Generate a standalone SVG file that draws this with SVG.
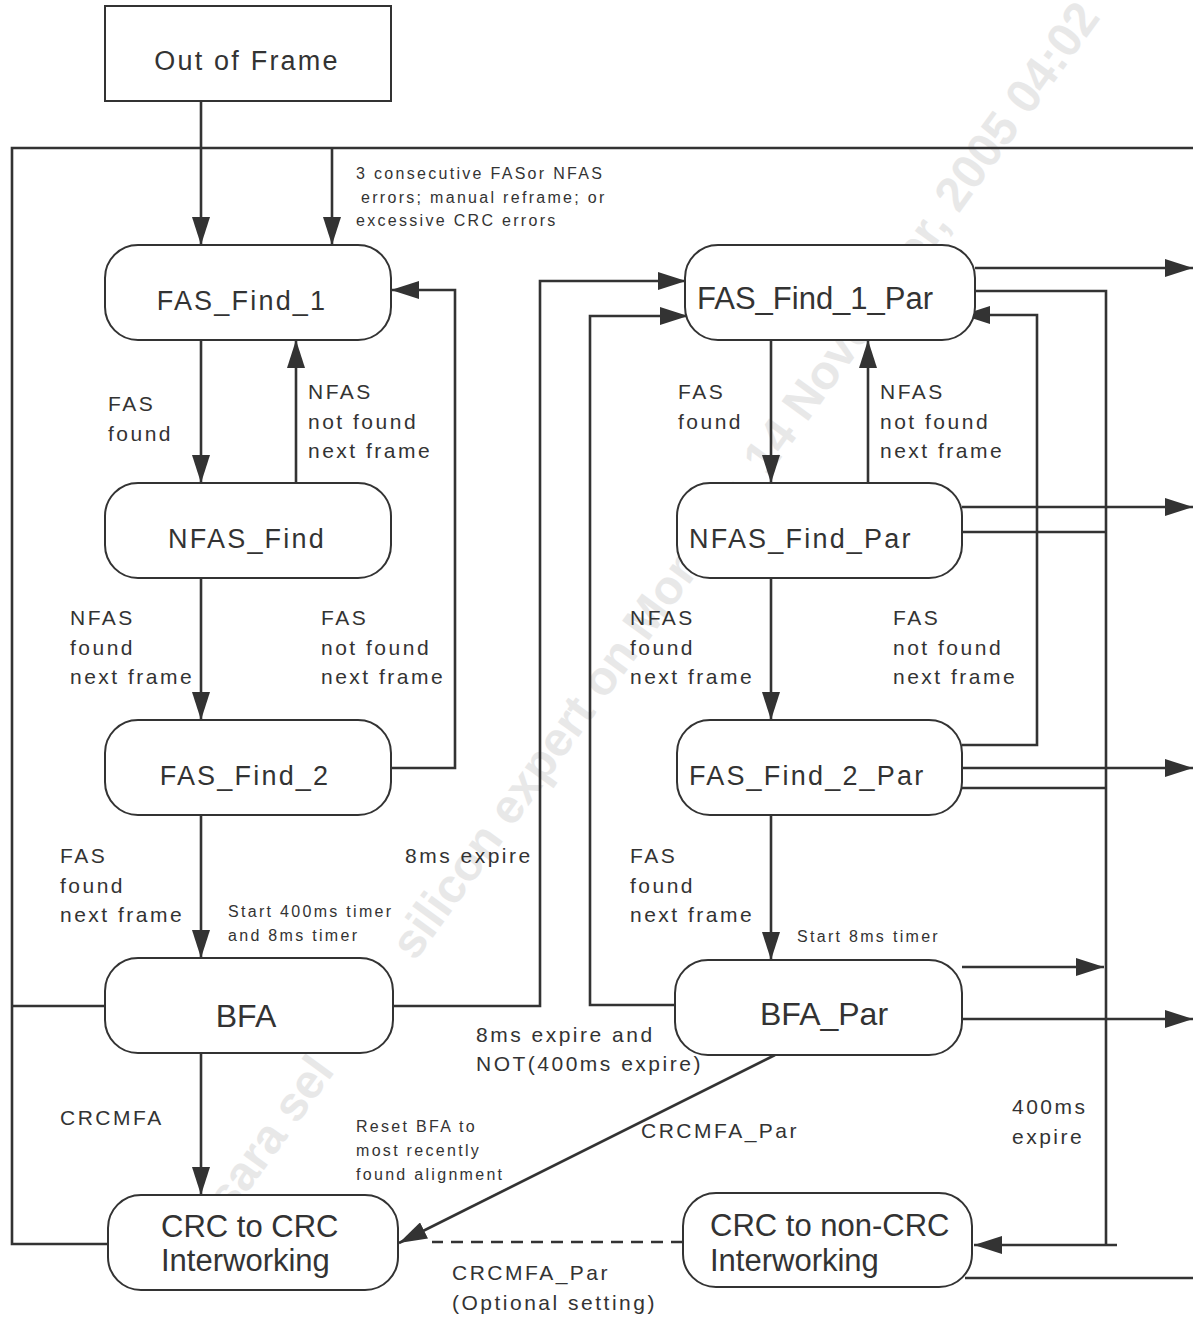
<svg xmlns="http://www.w3.org/2000/svg" width="1193" height="1317" viewBox="0 0 1193 1317">
<style>
.node{fill:#fff;stroke:#333;stroke-width:2}
.t{font-family:"Liberation Sans",Arial,sans-serif;fill:#333}
.nt{font-size:27px;letter-spacing:2.2px}
.nt2{font-size:31px}
.lbl{font-size:21px;letter-spacing:2.5px}
.sm{font-size:16px;letter-spacing:2.3px}
.ln{fill:none;stroke:#333;stroke-width:2.6}
.arr{marker-end:url(#ah)}
.wm{font-family:"Liberation Sans",Arial,sans-serif;font-weight:bold;font-size:48px;fill:#e8e8e8}
</style>
<defs>
<marker id="ah" markerUnits="userSpaceOnUse" markerWidth="28" markerHeight="18" refX="28" refY="9" orient="auto">
<path d="M0,0 L28,9 L0,18 z" fill="#333"/>
</marker>
</defs>
<rect width="1193" height="1317" fill="#fff"/>
<g id="watermark" transform="translate(415,962) rotate(-54)">
<text class="wm" x="0" y="0">silicon expert on Monday, 14 November, 2005 04:02</text>
<text class="wm" x="-135" y="0" text-anchor="end">sara sel</text>
</g>
<g id="connectors">
<path class="ln arr" d="M201,101 V245"/>
<path class="ln" d="M108,1244 H12 V148 H1193"/>
<path class="ln" d="M105,1006 H12"/>
<path class="ln arr" d="M332,148 V245"/>
<path class="ln arr" d="M201,340 V483"/>
<path class="ln arr" d="M296,483 V340"/>
<path class="ln arr" d="M201,578 V720"/>
<path class="ln arr" d="M391,768 H455 V290 H391"/>
<path class="ln arr" d="M201,815 V958"/>
<path class="ln arr" d="M201,1053 V1195"/>
<path class="ln arr" d="M393,1006 H540 V281 H686"/>
<path class="ln arr" d="M675,1005 H590 V316 H688"/>
<path class="ln arr" d="M771,340 V483"/>
<path class="ln arr" d="M868,483 V340"/>
<path class="ln arr" d="M771,578 V720"/>
<path class="ln arr" d="M962,745 H1037 V315 H962"/>
<path class="ln arr" d="M771,815 V960"/>
<path class="ln arr" d="M975,268 H1193"/>
<path class="ln" d="M975,291 H1106 V1245"/>
<path class="ln arr" d="M1117,1245 H974"/>
<path class="ln arr" d="M962,507 H1193"/>
<path class="ln" d="M962,532 H1106"/>
<path class="ln arr" d="M962,768 H1193"/>
<path class="ln" d="M962,788 H1106"/>
<path class="ln arr" d="M962,967 H1104"/>
<path class="ln arr" d="M962,1019 H1193"/>
<path class="ln" d="M965,1278 H1193"/>
<path class="ln arr" d="M775,1055 L399,1243"/>
<path class="ln" d="M683,1242 H432" stroke-dasharray="12,8"/>
</g>
<g id="n-oof"><rect class="node" x="105" y="6" width="286" height="95"/><text class="t nt" x="247" y="70" text-anchor="middle">Out of Frame</text></g>
<g id="n-ff1"><rect class="node" x="105" y="245" width="286" height="95" rx="33"/><text class="t nt" x="242" y="310" text-anchor="middle">FAS_Find_1</text></g>
<g id="n-nf"><rect class="node" x="105" y="483" width="286" height="95" rx="33"/><text class="t nt" x="247" y="548" text-anchor="middle">NFAS_Find</text></g>
<g id="n-ff2"><rect class="node" x="105" y="720" width="286" height="95" rx="33"/><text class="t nt" x="245" y="785" text-anchor="middle">FAS_Find_2</text></g>
<g id="n-bfa"><rect class="node" x="105" y="958" width="288" height="95" rx="33"/><text class="t" font-size="32" x="246" y="1027" text-anchor="middle">BFA</text></g>
<g id="n-crc"><rect class="node" x="108" y="1195" width="290" height="95" rx="33"/><text class="t nt2" x="161" y="1237">CRC to CRC</text><text class="t nt2" x="161" y="1271">Interworking</text></g>
<g id="n-ff1p"><rect class="node" x="685" y="245" width="290" height="95" rx="33"/><text class="t nt2" x="697" y="309">FAS_Find_1_Par</text></g>
<g id="n-nfp"><rect class="node" x="677" y="483" width="285" height="95" rx="33"/><text class="t nt" x="689" y="548">NFAS_Find_Par</text></g>
<g id="n-ff2p"><rect class="node" x="677" y="720" width="285" height="95" rx="33"/><text class="t nt" x="689" y="785">FAS_Find_2_Par</text></g>
<g id="n-bfap"><rect class="node" x="675" y="960" width="287" height="95" rx="33"/><text class="t" font-size="32" x="760" y="1025">BFA_Par</text></g>
<g id="n-crcn"><rect class="node" x="683" y="1193" width="289" height="94" rx="33"/><text class="t nt2" x="710" y="1236">CRC to non-CRC</text><text class="t nt2" x="710" y="1271">Interworking</text></g>
<g id="labels">
<text class="t sm" x="356" y="179">3 consecutive FASor NFAS</text>
<text class="t sm" x="361" y="203">errors; manual reframe; or</text>
<text class="t sm" x="356" y="226">excessive CRC errors</text>
<text class="t lbl" x="108" y="411">FAS</text><text class="t lbl" x="108" y="441">found</text>
<text class="t lbl" x="308" y="399">NFAS</text><text class="t lbl" x="308" y="429">not found</text><text class="t lbl" x="308" y="458">next frame</text>
<text class="t lbl" x="70" y="625">NFAS</text><text class="t lbl" x="70" y="655">found</text><text class="t lbl" x="70" y="684">next frame</text>
<text class="t lbl" x="321" y="625">FAS</text><text class="t lbl" x="321" y="655">not found</text><text class="t lbl" x="321" y="684">next frame</text>
<text class="t lbl" x="60" y="863">FAS</text><text class="t lbl" x="60" y="893">found</text><text class="t lbl" x="60" y="922">next frame</text>
<text class="t lbl" x="405" y="863">8ms expire</text>
<text class="t sm" x="228" y="917">Start 400ms timer</text><text class="t sm" x="228" y="941">and 8ms timer</text>
<text class="t lbl" x="60" y="1125">CRCMFA</text>
<text class="t lbl" x="678" y="399">FAS</text><text class="t lbl" x="678" y="429">found</text>
<text class="t lbl" x="880" y="399">NFAS</text><text class="t lbl" x="880" y="429">not found</text><text class="t lbl" x="880" y="458">next frame</text>
<text class="t lbl" x="630" y="625">NFAS</text><text class="t lbl" x="630" y="655">found</text><text class="t lbl" x="630" y="684">next frame</text>
<text class="t lbl" x="893" y="625">FAS</text><text class="t lbl" x="893" y="655">not found</text><text class="t lbl" x="893" y="684">next frame</text>
<text class="t lbl" x="630" y="863">FAS</text><text class="t lbl" x="630" y="893">found</text><text class="t lbl" x="630" y="922">next frame</text>
<text class="t sm" x="797" y="942">Start 8ms timer</text>
<text class="t lbl" x="476" y="1042">8ms expire and</text><text class="t lbl" x="476" y="1071">NOT(400ms expire)</text>
<text class="t lbl" x="641" y="1138">CRCMFA_Par</text>
<text class="t sm" x="356" y="1132">Reset BFA to</text><text class="t sm" x="356" y="1156">most recently</text><text class="t sm" x="356" y="1180">found alignment</text>
<text class="t lbl" x="1012" y="1114">400ms</text><text class="t lbl" x="1012" y="1144">expire</text>
<text class="t lbl" x="452" y="1280">CRCMFA_Par</text><text class="t lbl" x="452" y="1310">(Optional setting)</text>
</g>
</svg>
